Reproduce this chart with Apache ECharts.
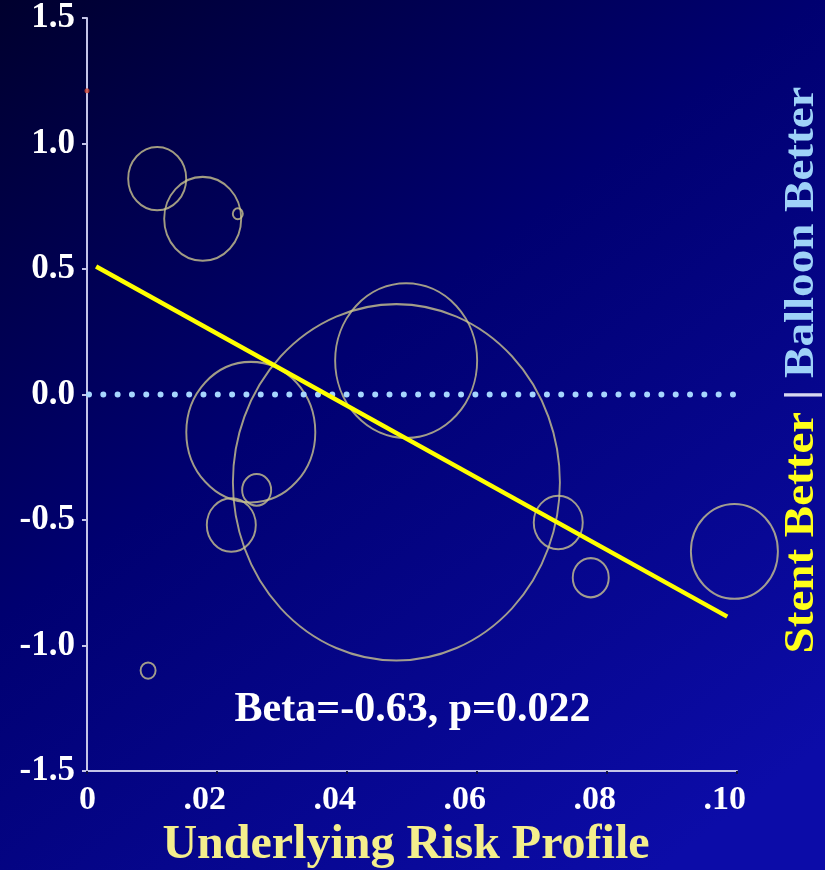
<!DOCTYPE html>
<html>
<head>
<meta charset="utf-8">
<script src="https://cdn.jsdelivr.net/npm/echarts@6/dist/echarts.min.js"></script>
<style>
html,body{margin:0;padding:0;background:#00004a;}
#chart{width:825px;height:870px;}
</style>
</head>
<body>
<div id="chart"></div>
<script>
// Study bubbles: underlying risk (x), effect (y), relative weight (bubble diameter)
var riskX   = [0.0108, 0.0178, 0.0232, 0.0094, 0.0252, 0.0261, 0.0222, 0.0476, 0.0491, 0.0725, 0.0775, 0.0996];
var effectY = [0.86,   0.70,   0.72,   -1.10,  -0.15,  -0.38,  -0.52,  -0.35,  0.135,  -0.51,  -0.73,  -0.625];
var weights = [58,     77,     10,     15,     129,    29,     49,     327,    142,    49,     36,     87];
// isolated point on the axis
var pointX = [0];
var pointY = [1.21];
// regression line end points
var regX = [0.0014, 0.0985];
var regY = [0.51, -0.885];
// reference line (no difference)
var refX = [0, 0.1];
var refY = [0, 0];
// tick labels
var xTickLabels = ['0', '.02', '.04', '.06', '.08', '.10'];
var yTickLabels = ['-1.5', '-1.0', '-0.5', '0.0', '0.5', '1.0', '1.5'];
var annotation = 'Beta=-0.63, p=0.022';
var xTitle = 'Underlying Risk Profile';

var FONT = '"Liberation Serif", "Times New Roman", serif';
var chart = echarts.init(document.getElementById('chart'), null, {renderer: 'canvas'});

var bubbles = riskX.map(function (x, i) { return [x, effectY[i], weights[i]]; });

var option = {
  backgroundColor: new echarts.graphic.LinearGradient(0, 0, 0.8, 1, [
    {offset: 0, color: '#00002e'},
    {offset: 0.45, color: '#000070'},
    {offset: 1, color: '#0c0ca8'}
  ]),
  animation: false,
  grid: {left: 87, right: 88, top: 18, bottom: 99, containLabel: false, outerBoundsMode: 'none'},
  xAxis: {
    type: 'value', min: 0, max: 0.1, interval: 0.02,
    name: xTitle, nameLocation: 'middle', nameGap: 50,
    nameTextStyle: {color: '#f4ee8c', fontFamily: FONT, fontWeight: 'bold', fontSize: 48, padding: [0, 12, 0, 0]},
    axisLine: {show: true, onZero: false, lineStyle: {color: '#c4c4e8', width: 2}},
    axisTick: {show: true, length: 3, lineStyle: {color: '#101040', width: 2}},
    splitLine: {show: false},
    axisLabel: {
      margin: 12, color: '#ffffff', fontFamily: FONT, fontWeight: 'bold', fontSize: 34,
      align: 'center',
      formatter: function (v) {
        var idx = Math.round(v / 0.02);
        return '{a|' + xTickLabels[idx] + '}';
      },
      rich: {a: {width: 18, align: 'right', color: '#ffffff', fontFamily: FONT, fontWeight: 'bold', fontSize: 34}}
    }
  },
  yAxis: {
    type: 'value', min: -1.5, max: 1.5, interval: 0.5,
    axisLine: {show: true, onZero: false, lineStyle: {color: '#c4c4e8', width: 2}},
    axisTick: {show: true, length: 5, lineStyle: {color: '#c4c4e8', width: 2}},
    splitLine: {show: false},
    axisLabel: {
      margin: 12, color: '#ffffff', fontFamily: FONT, fontWeight: 'bold', fontSize: 35,
      formatter: function (v) {
        var idx = Math.round((v + 1.5) / 0.5);
        return yTickLabels[idx];
      }
    }
  },
  series: [
    {
      type: 'scatter', name: 'studies', z: 2,
      data: bubbles,
      symbol: 'circle',
      symbolSize: function (v) { return [v[2], v[2] * 1.09]; },
      itemStyle: {color: 'rgba(0,0,0,0)', borderColor: '#c9c38e', borderWidth: 2},
      silent: true
    },
    {
      type: 'scatter', name: 'point', z: 3,
      data: pointX.map(function (x, i) { return [x, pointY[i]]; }),
      symbol: 'circle', symbolSize: 5,
      itemStyle: {color: '#d24a36'},
      silent: true
    },
    {
      type: 'line', name: 'reference', z: 4,
      data: refX.map(function (x, i) { return [x, refY[i]]; }),
      symbol: 'none',
      lineStyle: {color: '#a6d6ff', width: 6, type: [0.01, 14.3], cap: 'round', dashOffset: -2},
      silent: true
    },
    {
      type: 'line', name: 'regression', z: 5,
      data: regX.map(function (x, i) { return [x, regY[i]]; }),
      symbol: 'none',
      lineStyle: {color: '#ffff00', width: 4.5, cap: 'butt'},
      silent: true
    }
  ],
  graphic: [
    {
      type: 'text', left: 'center', top: 689, z: 10,
      style: {text: annotation, fill: '#ffffff', font: 'bold 42px ' + FONT}
    },
    {
      type: 'text', x: 802, y: 370, rotation: Math.PI / 2, scaleX: 1.12, z: 10,
      style: {
        text: '{s|Stent Better} {d||} {b|Balloon Better}',
        align: 'center', verticalAlign: 'middle',
        font: 'bold 42px ' + FONT,
        rich: {
          s: {fill: '#ffff1a', font: 'bold 42px ' + FONT},
          d: {fill: '#d8d8f0', font: 'bold 42px ' + FONT},
          b: {fill: '#9fd2f8', font: 'bold 42px ' + FONT}
        }
      }
    }
  ]
};
chart.setOption(option);
</script>
</body>
</html>
